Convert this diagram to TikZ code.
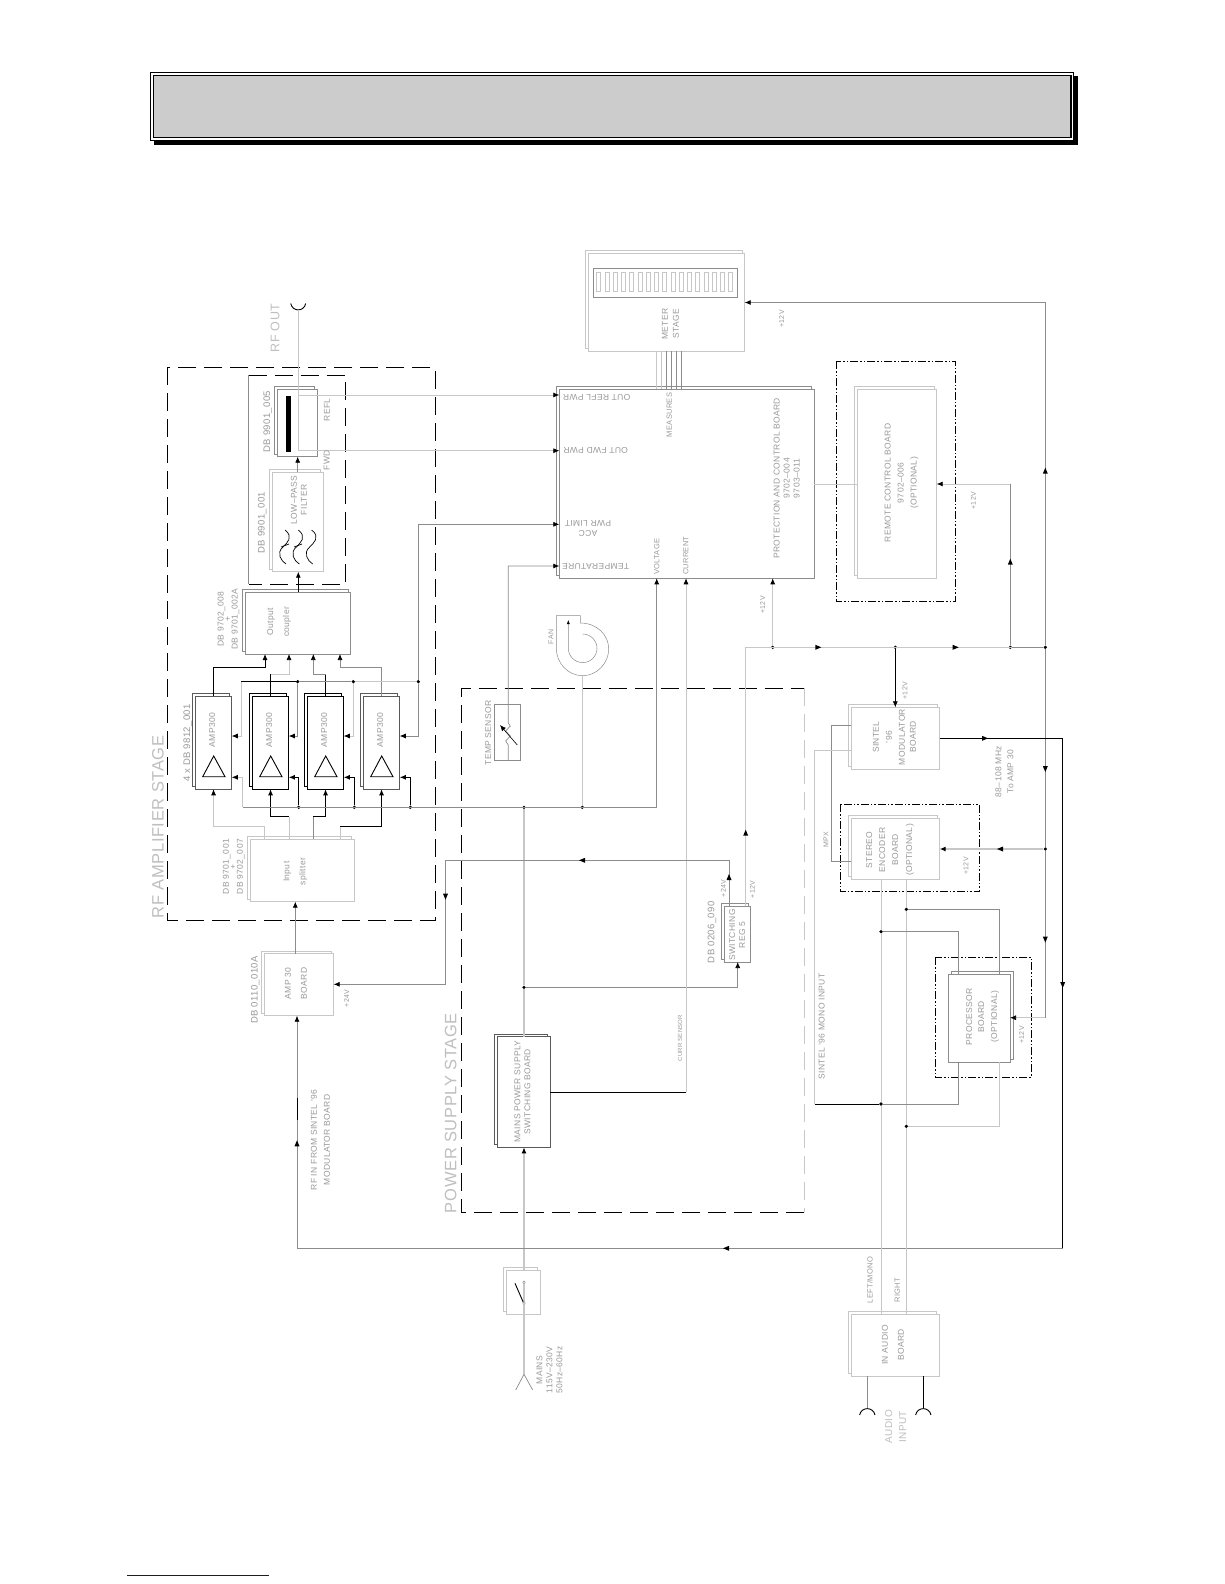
\documentclass[tikz,border=0pt]{standalone}
\usepackage{fontspec}
\setmainfont[LetterSpace=4]{Liberation Sans}
\usetikzlibrary{arrows.meta,shadows}

\definecolor{headgray}{HTML}{CCCCCC}
\definecolor{textgray}{gray}{0.6}
\definecolor{wiregray}{gray}{0.55}
\definecolor{lightgray}{gray}{0.78}
\definecolor{linkblue}{HTML}{10108A}

\tikzset{
  plainboard/.style={draw=wiregray, fill=white, line width=0.7pt, inner sep=0pt, outer sep=0pt},
  board/.style={plainboard, copy shadow={shadow xshift=-2.7pt, shadow yshift=2.7pt}},
  blackboard/.style={board, draw=black},
  darkboard/.style={board, draw=black!65},
  paleboard/.style={board, draw=lightgray},
  rightboard/.style={plainboard, copy shadow={shadow xshift=3pt, shadow yshift=3pt}},
  wire/.style={draw=wiregray, line width=0.7pt},
  lightwire/.style={draw=lightgray, line width=0.7pt},
  palewire/.style={draw=lightgray, line width=1.4pt},
  blackwire/.style={draw=black, line width=0.9pt},
  tip/.tip={Latex[length=6pt, width=5pt, black]},
  dot/.style={circle, fill=black, inner sep=0pt, minimum size=3.6pt},
  stagebox/.style={draw=black, line width=0.9pt, dash pattern=on 18pt off 8pt},
  optbox/.style={draw=black, line width=0.9pt, dash pattern=on 8pt off 2pt on 1.5pt off 2pt on 1.5pt off 2pt},
  flipped/.style={text=textgray, font=\fontsize{8.5}{10}\selectfont, inner sep=0pt, align=center, rotate=180},
  lbl/.style={text=textgray, font=\fontsize{8.5}{10}\selectfont, inner sep=0pt, align=center, rotate=90},
  dblbl/.style={lbl, font=\fontsize{9.5}{10}\selectfont},
  shortlbl/.style={lbl, font=\fontsize{7.5}{9}\selectfont},
  tinylbl/.style={lbl, font=\fontsize{7}{9}\selectfont},
  biglbl/.style={lbl, font=\fontsize{16.5}{20}\selectfont, text=gray!50}
}

% board given by its left, top, right and bottom edge
\newcommand{\board}[6][board]{
  \node[#1, minimum width={((#5)-(#3))*1pt}, minimum height={((#6)-(#4))*1pt}]
    (#2) at ({((#3)+(#5))/2}, {((#4)+(#6))/2}) {};
}
% arrowhead in the middle of a wire
\newcommand{\midtip}[3]{
  \fill[black, shift={(#1,#2)}, rotate=#3] (3,0) -- (-3,2.5) -- (-3,-2.5) -- cycle;
}

\begin{document}
\begin{tikzpicture}[x=1pt, y=-1pt]
  \useasboundingbox (0,0) rectangle (1224,1584);
  \fill[white] (0,0) rectangle (1224,1584);

  % Page title bar
  \fill[black] (154,76) rectangle (1078,145);
  \fill[black] (150,72) rectangle (1074,141);
  \fill[white] (151.3,73.3) rectangle (1072.7,139.7);
  \draw[black, line width=1.2pt, fill=headgray] (153.7,75.7) rectangle (1071,137.5);
  \draw[linkblue, line width=1pt] (127,1575.3) -- (269,1575.3);

  % Stage outlines
  \draw[stagebox] (167,367.3) rectangle (435,920);
  \draw[stagebox] (248.7,375.3) -- (345.7,375.3) -- (345.7,584.3) -- (248.7,584.3);
  \draw[wire] (248.7,375.3) -- (248.7,584.3);
  \draw[stagebox] (804,1212.3) -- (461.3,1212.3) -- (461.3,688.3) -- (804,688.3);
  \draw[lightgray, line width=0.9pt, dash pattern=on 18pt off 8pt] (804,688.3) -- (804,1212.3);
  \draw[optbox] (836.3,361.3) rectangle (955.7,601.3);
  \draw[optbox] (840.3,804.3) rectangle (979.7,891.7);
  \draw[optbox] (935.3,957.3) rectangle (1031.3,1077.3);

  % Boards
  \board{dircoupler}{277.3}{389.3}{317.3}{456.7}
  \board[paleboard]{lowpass}{272}{472.3}{323}{571.7}
  \board{coupler}{245.3}{592}{350.7}{654}
  \board[paleboard]{splitter}{250.3}{839.3}{354.3}{901.7}
  \board[paleboard]{ampboard}{264.3}{953.7}{333.7}{1015.7}
  \board[darkboard]{mains}{497.3}{1036.7}{550.3}{1147.3}
  \board{switchreg}{724.3}{906}{750.7}{962}
  \board[paleboard]{mainsswitch}{506.3}{1270.3}{540.3}{1314.3}
  \board{protection}{559.3}{389}{814.3}{578.3}
  \board[paleboard]{meter}{588}{253.3}{744.7}{351.3}
  \board[paleboard]{remote}{857.3}{389.3}{936.7}{578.3}
  \board[paleboard]{modulator}{851.3}{707.3}{939.7}{769}
  \board[paleboard]{encoder}{851.3}{818.3}{939.7}{879.3}
  \board[rightboard]{processor}{948.3}{974}{1010}{1062.3}
  \board[paleboard]{inaudio}{851}{1314.3}{939.3}{1376.3}
  \board[plainboard]{tempsensor}{494}{704.3}{520.3}{760}

  % Amplifier modules
  \foreach \ampname/\ampx/\ampstyle in {ampa/195.3/darkboard, ampb/252.3/blackboard, ampc/307.3/blackboard, ampd/363.3/darkboard} {
    \board[\ampstyle]{\ampname}{\ampx}{696.3}{\ampx+36.5}{789.3}
    \draw[blackwire] ({\ampx+18.4},756) -- ({\ampx+7.4},776.7) -- ({\ampx+29.7},776.7) -- cycle;
    \node[lbl] (\ampname label) at ({\ampx+17},730) {AMP300};
  }

  % Meter display cells
  \draw[wire, fill=white] (593,268.3) rectangle (737.7,297.3);
  \foreach \i in {0,...,16} {
    \draw[lightgray, line width=0.5pt] ({596.7+8.25*\i},272.7) rectangle ({600.7+8.25*\i},291.7);
  }
  \foreach \wx/\wcol in {656.7/lightgray, 661.7/lightgray, 666.7/wiregray, 671.7/wiregray, 676.7/wiregray, 681.7/wiregray} {
    \draw[draw=\wcol, line width=0.6pt] (meter.south -| \wx,0) -- (protection.north -| \wx,0);
  }

  % RF path
  \coordinate (rfoutpt) at (298.3,310);
  \coordinate (reflpt) at (298.3,395);
  \coordinate (fwdpt) at (298.3,450.7);
  \draw[blackwire] (290.7,303.5) .. controls (292.5,312) and (304,312) .. (305.7,303.5);
  \draw[lightwire] (rfoutpt) -- (reflpt) -- (fwdpt);
  \draw[lightwire, -tip] (reflpt) -- (protection.west |- reflpt);
  \draw[lightwire, -tip] (fwdpt) -- (protection.west |- fwdpt);
  \fill[black] (286,396) rectangle (291,452);
  \draw[wire, -tip] (lowpass.north -| 297.7,0) -- (dircoupler.south -| 297.7,0);
  \draw[blackwire, -tip] (coupler.north -| 298.3,0) -- (lowpass.south -| 298.3,0);
  \draw[wire, -tip] (ampboard.north -| 295.3,0) -- (splitter.south -| 295.3,0);

  % Filter symbol
  \foreach \fx in {285, 298.3, 311.7} {
    \draw[blackwire, line width=0.7pt] (\fx,530) .. controls ({\fx+9},537) and ({\fx+2},543) .. ({\fx-2},547)
      .. controls ({\fx-9},553) and ({\fx-4},561) .. ({\fx+1},564);
  }
  \draw[blackwire, line width=0.7pt] (281,547) -- (289,544);
  \draw[blackwire, line width=0.7pt] (294,547) -- (302,544);

  % Splitter to amplifiers
  \draw[lightwire, -tip] (splitter.north -| 264.3,0) -- (264.3,826.7) -| (ampa.south);
  \draw[lightwire] (splitter.north -| 289,0) -- (289,816.7);
  \draw[blackwire, -tip] (289,816.7) -| (ampb.south);
  \draw[wire] (splitter.north -| 313.3,0) -- (313.3,816.7);
  \draw[blackwire, -tip] (313.3,816.7) -| (ampc.south);
  \draw[lightwire] (splitter.north -| 340,0) -- (340,826.7);
  \draw[blackwire, -tip] (340,826.7) -| (ampd.south);

  % Amplifiers to output coupler
  \draw[blackwire, -tip] (ampa.north) |- (265,667.3) -- (coupler.south -| 265,0);
  \draw[blackwire] (ampb.north) -- (ampb.north |- 0,674.3);
  \draw[lightwire, -tip] (ampb.north |- 0,674.3) -| (coupler.south -| 289,0);
  \draw[blackwire] (ampc.north) -- (ampc.north |- 0,674.3);
  \draw[wire, -tip] (ampc.north |- 0,674.3) -| (coupler.south -| 313.3,0);
  \draw[wire, -tip] (ampd.north) |- (340,667.3) -- (coupler.south -| 340,0);

  % Power limit line across the amplifiers
  \coordinate (biasa) at (241,681.7);
  \node[dot] (biasb) at (297.7,681.7) {};
  \node[dot] (biasc) at (353.3,681.7) {};
  \node[dot] (biasd) at (418.3,681.7) {};
  \draw[blackwire] (biasa) -- (biasb);
  \draw[wire] (biasb) -- (biasc);
  \draw[lightwire] (biasc) -- (biasd);
  \draw[lightwire, -tip] (biasa) |- (ampa.east |- 0,736);
  \draw[wire, -tip] (biasb) |- (ampb.east |- 0,736);
  \draw[lightwire, -tip] (biasc) |- (ampc.east |- 0,736);
  \draw[wire, -tip] (biasd) |- (ampd.east |- 0,736);
  \draw[wire, -tip] (biasd) |- (protection.west |- 0,524.3);

  % Supply bus
  \coordinate (busa) at (242.7,807.3);
  \node[dot] (busb) at (298.7,807.3) {};
  \node[dot] (busc) at (354.3,807.3) {};
  \node[dot] (busd) at (410.3,807.3) {};
  \node[dot] (buse) at (524,807.3) {};
  \node[dot] (busf) at (582.3,807.3) {};
  \draw[wire, -tip] (busa) -| (protection.south -| 656.7,0);
  \draw[lightwire, -tip] (busa) |- (ampa.east |- 0,777.3);
  \draw[blackwire, -tip] (busb) |- (ampb.east |- 0,777.3);
  \draw[blackwire, -tip] (busc) |- (ampc.east |- 0,777.3);
  \draw[blackwire, -tip] (busd) |- (ampd.east |- 0,777.3);

  % Mains feed
  \node[dot] (regfeed) at (524,987.3) {};
  \coordinate (mainslow) at (524,1374.3);
  \draw[palewire] (buse) -- (regfeed) -- (mains.north -| buse);
  \draw[palewire] (mainslow) -- (mainsswitch.south -| mainslow) -- (524,1282.3);
  \draw[palewire, -tip] (524,1270) -- (mains.south -| buse);
  \draw[wire, -tip] (regfeed) -| (switchreg.south -| 737.7,0);
  \draw[wire] (mainslow) -- (515.7,1390);
  \draw[wire] (mainslow) -- (532.7,1390);
  \draw[blackwire] (515,1283.3) -- (523.3,1302.3);
  \draw[wire, fill=white, line width=0.4pt] (524,1282.3) circle (1.3);
  \draw[wire, fill=white, line width=0.4pt] (524,1303) circle (1.3);
  \draw[blackwire] (mains.east |- 0,1092.3) -- (686,1092.3);
  \draw[lightwire, -tip] (686,1092.3) -- (protection.south -| 686,0);

  % Temperature sensor and fan
  \draw[wire, -tip] (tempsensor.south -| 508.3,0) -- (508.3,745) -- (505.7,741) -- (510.3,736) -- (505.7,731)
    -- (510.3,726) -- (508.3,723) |- (protection.west |- 0,566);
  \draw[blackwire, line width=0.6pt, -tip] (517.3,745) -- (500,725);
  \draw[palewire] (busf) -- (582.3,675.7);
  \draw[wire, line width=0.5pt] (580.3,623) -- (580.3,615.7) -- (556.3,615.7) -- (556.3,648.3)
    .. controls (556.3,663) and (568,675.7) .. (582.7,675.7)
    .. controls (597,675.7) and (608.7,663) .. (608.7,649)
    .. controls (608.7,635) and (597,623) .. (580.3,623);
  \draw[wire, line width=0.5pt, {Latex[length=4pt, width=3pt, black]}-] (568.3,620) -- (568.3,648.3)
    .. controls (568.3,656.3) and (575,662.6) .. (582.7,662.6)
    .. controls (590.5,662.6) and (597,656.3) .. (597,648.3)
    .. controls (597,640.5) and (590.5,634) .. (582.7,634);

  % Regulator outputs
  \coordinate (regtop) at (729,860.3);
  \coordinate (backfeed) at (445.5,860.3);
  \draw[wire, -tip] (switchreg.north -| regtop) -- (regtop) -- (backfeed) |- (ampboard.east |- 0,984.3);
  \midtip{729}{877}{90}
  \midtip{582}{860.3}{180}
  \midtip{445.5}{896.7}{270}

  % +12V rail
  \node[dot] (railb) at (772.7,647.3) {};
  \node[dot] (railc) at (895.3,647.3) {};
  \node[dot] (raild) at (1010.3,647.3) {};
  \node[dot] (raile) at (1045.3,647.3) {};
  \node[dot] (railf) at (1045.3,849) {};
  \draw[lightwire] (switchreg.north -| 745.7,0) |- (raile);
  \draw[wire] (raild) -- (raile);
  \draw[lightwire, -tip] (railb) -- (protection.south -| railb);
  \draw[blackwire, line width=0.7pt, -tip] (railc) -- (modulator.north -| railc);
  \draw[wire] (raild) |- (1010.3,484);
  \draw[lightwire, -tip] (1010.3,484) -- (remote.east |- 0,484);
  \draw[wire, -tip] (raile) |- (meter.east |- 0,302.5);
  \draw[wire] (raile) -- (railf);
  \draw[wire] (railf) |- (1040,1017.7);
  \draw[lightwire, -tip] (1045.3,1017.7) -- (processor.east |- 0,1017.7);
  \draw[palewire, -tip] (railf) -- (encoder.east |- railf);
  \draw[lightwire] (protection.east |- 0,484) -- (remote.west |- 0,484);
  \midtip{745.7}{832.7}{90}
  \midtip{818.3}{647.3}{0}
  \midtip{955.7}{647.3}{0}
  \midtip{1010.3}{561.7}{90}
  \midtip{1045.3}{470.7}{90}
  \midtip{1045.3}{769}{270}
  \midtip{1045.3}{939.5}{270}
  \midtip{1000}{849}{180}

  % RF drive back to the exciter input
  \coordinate (rfcorner) at (1062.7,1248.3);
  \draw[blackwire] (modulator.east |- 0,738.3) -| (rfcorner);
  \draw[wire, -tip] (rfcorner) -| (ampboard.south -| 297,0);
  \draw[blackwire] (297,1098) -- (297,1120);
  \midtip{985}{738.3}{0}
  \midtip{1062.7}{985}{270}
  \midtip{726}{1248.3}{180}
  \midtip{297}{1143.3}{90}

  % Audio paths
  \node[dot] (leftup) at (881,931.7) {};
  \node[dot] (leftlow) at (881,1104) {};
  \node[dot] (rightup) at (906.3,909.3) {};
  \node[dot] (rightlow) at (906.3,1126.3) {};
  \coordinate (mpxcorner) at (831.3,725.7);
  \coordinate (monocorner) at (814.7,750.3);
  \draw[lightwire] (encoder.south -| leftup) -- (leftup) -- (leftlow) -- (inaudio.north -| leftup);
  \draw[lightwire] (encoder.south -| rightup) -- (rightup) -- (rightlow) -- (inaudio.north -| rightup);
  \draw[wire] (modulator.west |- mpxcorner) -- (mpxcorner) |- (encoder.west |- 0,861.3);
  \draw[lightwire] (modulator.west |- monocorner) -- (monocorner) -- (814.7,1104);
  \draw[blackwire] (814.7,1104) -- (leftlow);
  \draw[wire] (leftlow) -| (processor.south -| 958,0);
  \draw[wire] (leftup) -| (processor.north -| 958,0);
  \draw[wire] (rightup) -| (processor.north -| 999.7,0);
  \draw[lightwire] (rightlow) -| (processor.south -| 999.7,0);

  % Audio input jacks
  \draw[wire] (inaudio.south -| 867.3,0) -- (867.3,1408.3);
  \draw[blackwire] (inaudio.south -| 923.3,0) -- (923.3,1408.3);
  \foreach \jx in {867.3, 923.3} {
    \draw[blackwire] ({\jx-7.7},1415) .. controls ({\jx-6},1406.5) and ({\jx+6},1406.5) .. ({\jx+7.7},1415);
  }

  % Stage titles
  \node[biglbl] (lblrfstage) at (158,827) {RF AMPLIFIER STAGE};
  \node[biglbl] (lblpsstage) at (450.7,1113) {POWER SUPPLY STAGE};
  \node[lbl, text=gray!50, font=\fontsize{12.5}{14}\selectfont] (lblrfout) at (275,328) {RF OUT};
  \node[lbl, text=gray!50, font=\fontsize{10}{13}\selectfont] (lblaudio) at (895.7,1426.7) {AUDIO\\[1pt]INPUT};

  % Board labels
  \node[dblbl] (lbldir) at (267.7,421.7) {DB 9901\_005};
  \node[lbl] (lblrefl) at (327,410) {REFL};
  \node[lbl] (lblfwd) at (326.7,460) {FWD};
  \node[lbl] (lbllow) at (299,500) {LOW--PASS\\FILTER};
  \node[dblbl] (lbllowdb) at (262.3,522.7) {DB 9901\_001};
  \node[lbl] (lblcoupler) at (279,622) {Output\\[6pt]coupler};
  \node[lbl] (lblcouplerdb) at (228.5,619) {DB 9702\_008\\[-3pt]+\\[-3pt]DB 9701\_002A};
  \node[dblbl] (lblampdb) at (187.7,743) {4 x DB 9812\_001};
  \node[lbl] (lblsplit) at (295.3,871.7) {Input\\[6pt]splitter};
  \node[lbl] (lblsplitdb) at (233.7,866.7) {DB 9701\_001\\[-3pt]+\\[-3pt]DB 9702\_007};
  \node[lbl] (lblamp) at (296,983.3) {AMP 30\\[6pt]BOARD};
  \node[dblbl] (lblampboarddb) at (255.3,990) {DB 0110\_010A};
  \node[tinylbl] (lblampv) at (346.7,998.3) {+24V};
  \node[lbl] (lblrfin) at (320.5,1140) {RF IN FROM SINTEL '96\\[3pt]MODULATOR BOARD};
  \node[lbl] (lblmains) at (522.5,1091.7) {MAINS POWER SUPPLY\\SWITCHING BOARD};
  \node[lbl, font=\fontsize{6}{8}\selectfont] (lblcurr) at (680,1038) {CURR SENSOR};
  \node[lbl] (lbltemp) at (488.3,733) {TEMP SENSOR};
  \node[tinylbl] (lblfan) at (551,637) {FAN};
  \node[lbl] (lblreg) at (737.3,935) {SWITCHING\\REG 5};
  \node[dblbl] (lblregdb) at (712,932.3) {DB 0206\_090};
  \node[tinylbl] (lblregb) at (723.3,888.3) {+24V};
  \node[tinylbl] (lblregc) at (752.3,889.3) {+12V};
  \node[lbl] (lblmainsin) at (549.5,1370) {MAINS\\115V--230V\\50Hz--60Hz};

  \node[flipped] (lblrefpwr) at (596.7,397.7) {OUT REFL PWR};
  \node[flipped] (lblfwdpwr) at (595.7,450.7) {OUT FWD PWR};
  \node[flipped] (lblacc) at (588,528.7) {ACC\\PWR LIMIT};
  \node[flipped] (lbltempin) at (595.7,566) {TEMPERATURE};
  \node[shortlbl] (lblmeasures) at (669.3,415) {MEASURES};
  \node[shortlbl] (lblvolt) at (656.7,556.7) {VOLTAGE};
  \node[shortlbl] (lblcurrent) at (685.7,555.7) {CURRENT};
  \node[lbl] (lblprot) at (786.7,478.3) {PROTECTION AND CONTROL BOARD\\9702--004\\9703--011};
  \node[tinylbl] (lblprotv) at (762.7,605) {+12V};
  \node[lbl] (lblmeter) at (670.5,324) {METER\\[1pt]STAGE};
  \node[tinylbl] (lblmeterv) at (781.7,319) {+12V};
  \node[lbl] (lblremote) at (901.5,483) {REMOTE CONTROL BOARD\\[3pt]9702--006\\[3pt](OPTIONAL)};
  \node[tinylbl] (lblremotev) at (973.3,500.7) {+12V};
  \node[lbl] (lblmod) at (894.5,737) {SINTEL\\[3pt]'96\\[3pt]MODULATOR\\[1pt]BOARD};
  \node[tinylbl] (lblmodv) at (905,690.7) {+12V};
  \node[lbl] (lblband) at (1004.5,771.7) {88--108 MHz\\[2pt]To AMP 30};
  \node[lbl] (lblenc) at (890,850) {STEREO\\[3pt]ENCODER\\[3pt]BOARD\\[4pt](OPTIONAL)};
  \node[tinylbl] (lblencv) at (966,866) {+12V};
  \node[tinylbl] (lblmpx) at (826,840) {MPX};
  \node[lbl] (lblmono) at (821.7,1026.7) {SINTEL '96 MONO INPUT};
  \node[lbl] (lblproc) at (982.5,1016.7) {PROCESSOR\\[2pt]BOARD\\[3pt](OPTIONAL)};
  \node[tinylbl] (lblprocv) at (1021.7,1035) {+12V};
  \node[lbl] (lblaud) at (893,1345) {IN AUDIO\\[6pt]BOARD};
  \node[shortlbl] (lblleft) at (870,1280) {LEFT/MONO};
  \node[shortlbl] (lblright) at (897.3,1290) {RIGHT};

\end{tikzpicture}
\end{document}
